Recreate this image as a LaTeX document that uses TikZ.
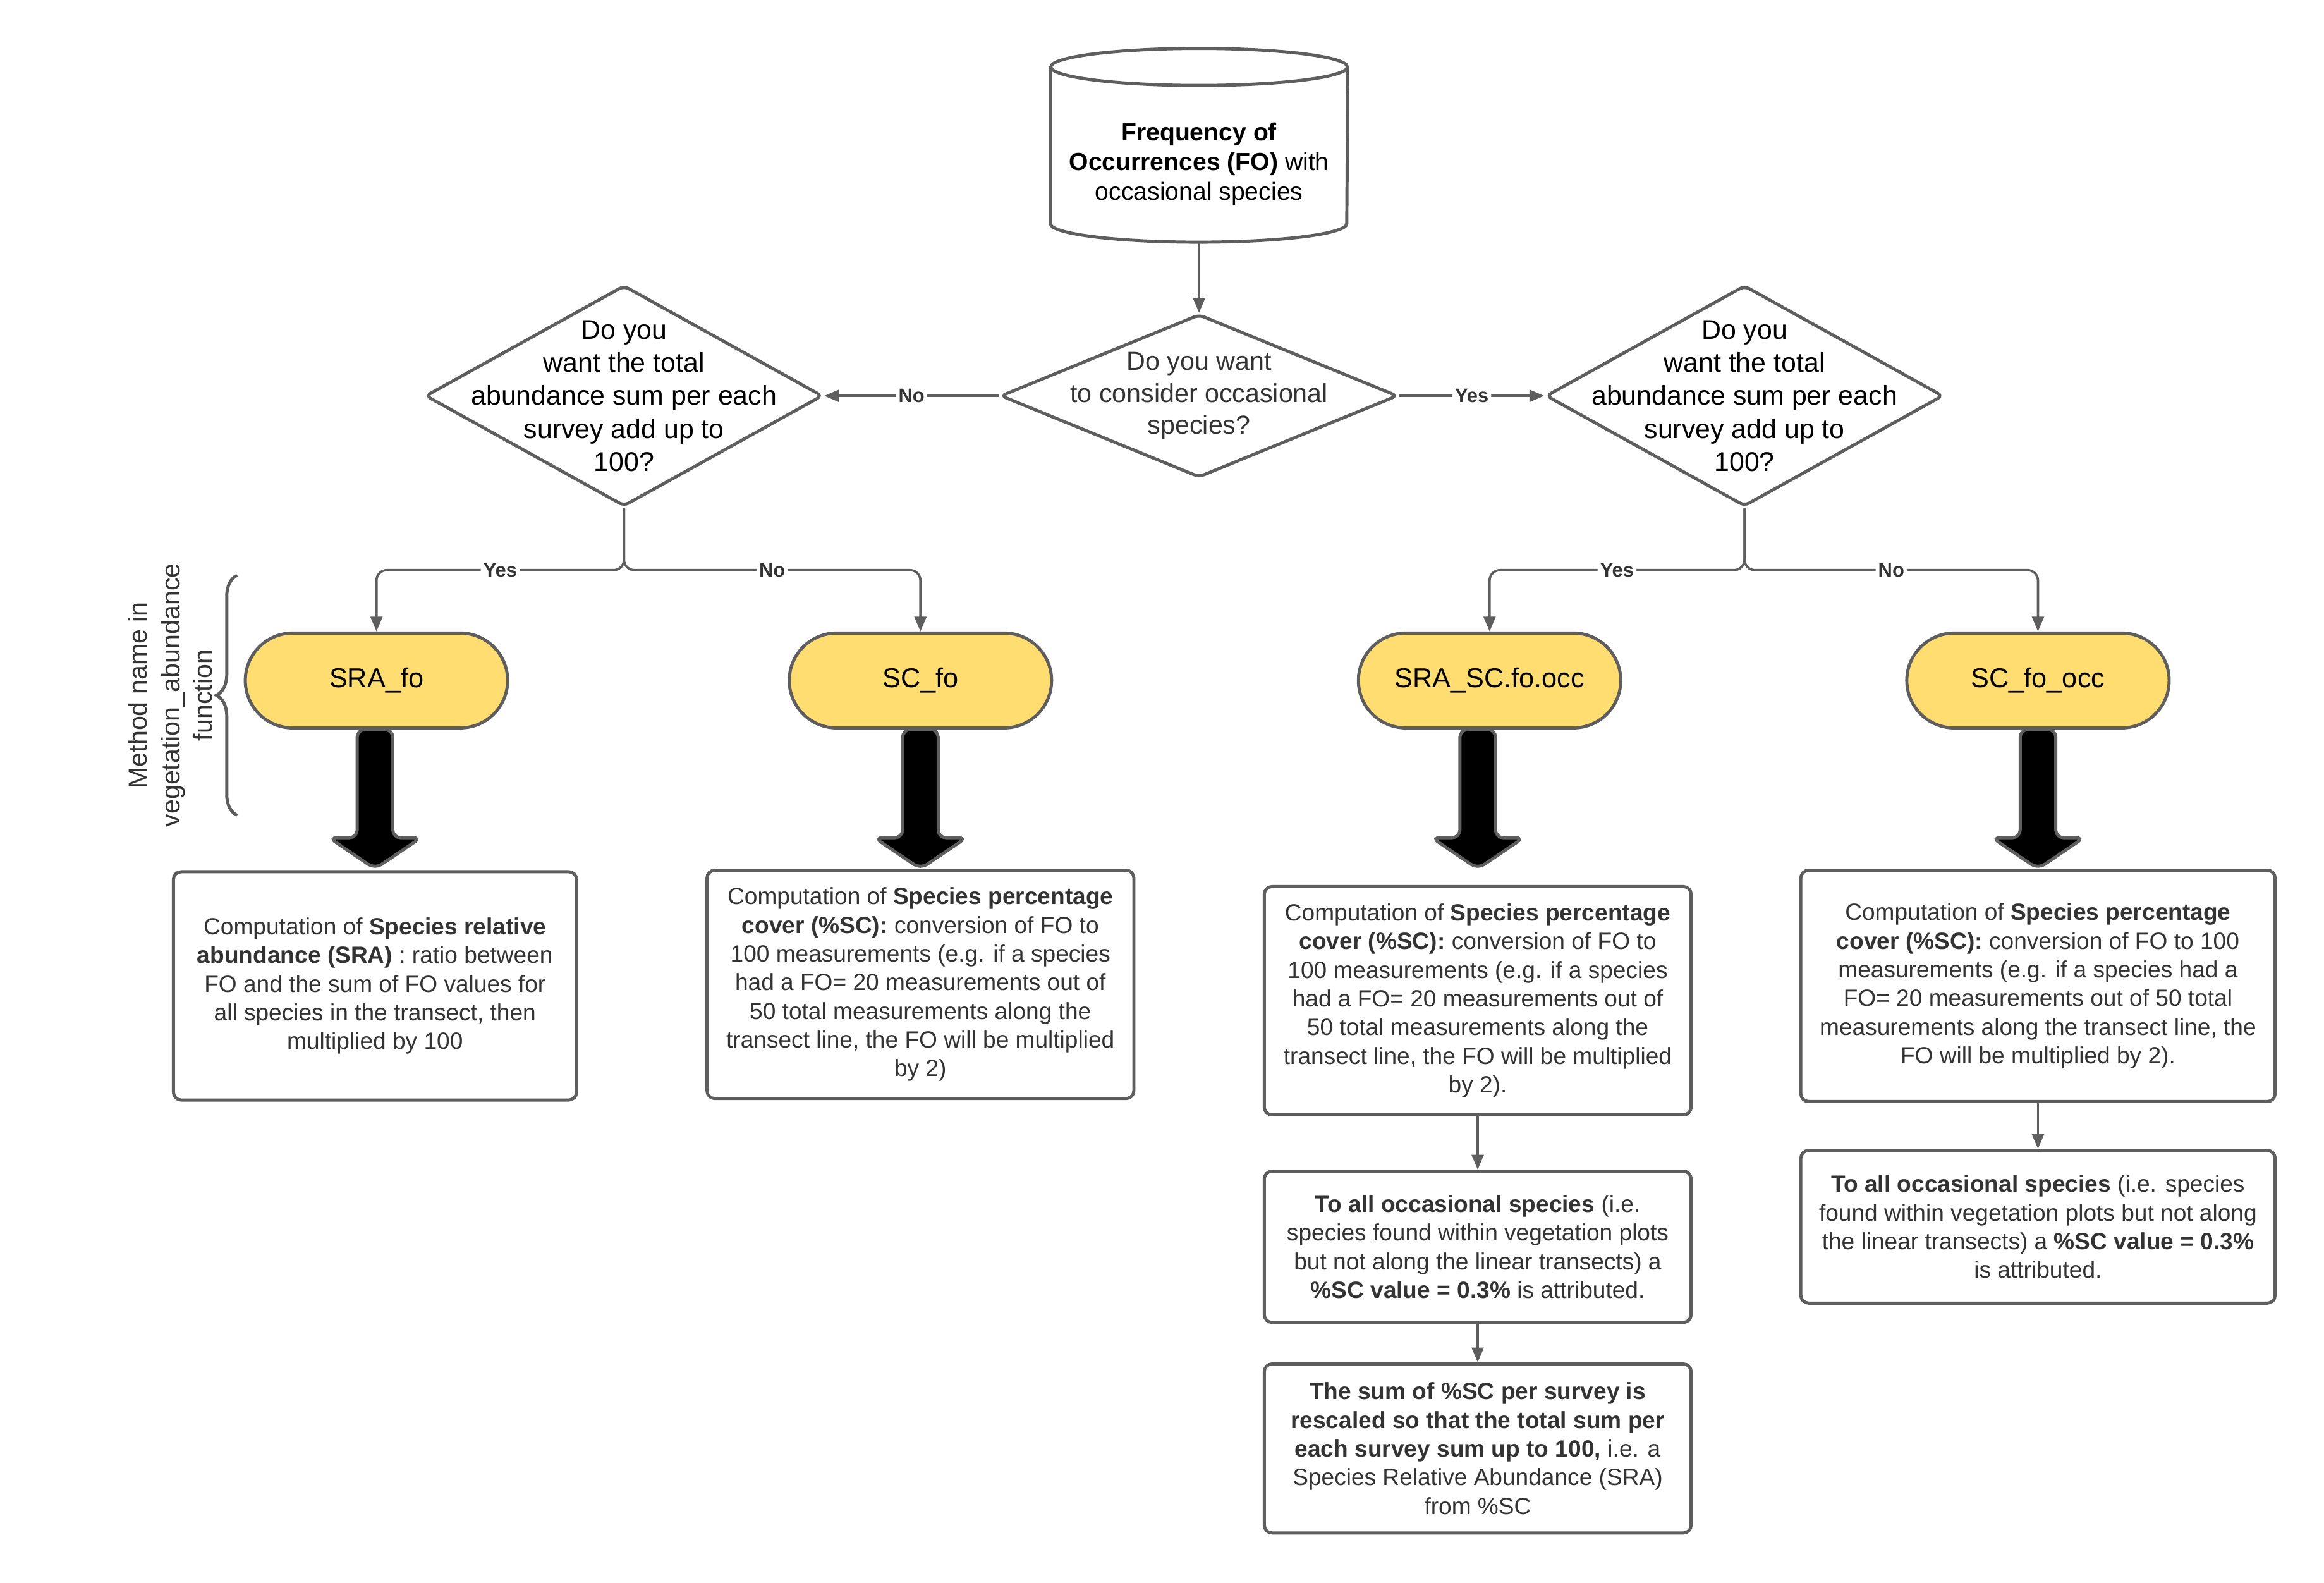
\documentclass[tikz,border=0pt]{standalone}
\usepackage{fontspec}
\setmainfont{Liberation Sans}
\usetikzlibrary{shapes.geometric,arrows.meta,decorations.pathreplacing}
\definecolor{linegray}{RGB}{94,94,94}
\definecolor{textgray}{RGB}{51,51,51}
\definecolor{methodyellow}{RGB}{255,221,113}
\tikzset{
  border/.style={draw=linegray, line width=1.2pt},
  decision/.style={border, diamond, rounded corners=2pt, inner sep=0pt, minimum width=5.36cm},
  asktext/.style={align=center, inner sep=0pt, font=\fontsize{10.4}{12.7}\selectfont},
  asksmall/.style={align=center, inner sep=0pt, text=textgray, font=\fontsize{10}{12.2}\selectfont},
  cyltext/.style={align=center, inner sep=0pt, minimum width=4cm, minimum height=2.1cm, font=\fontsize{9.5}{11.4}\selectfont},
  method/.style={border, fill=methodyellow, rounded corners=0.64cm, minimum width=3.54cm, minimum height=1.28cm, font=\fontsize{10.5}{12}\selectfont},
  descbox/.style={border, rounded corners=3pt, align=center, text=textgray, font=\fontsize{9}{11}\selectfont},
  link/.style={draw=linegray, line width=0.9pt, rounded corners=4pt, -{Triangle[length=0.2cm,width=0.16cm]}},
  lbl/.style={fill=white, inner sep=1pt, text=textgray, font=\bfseries\fontsize{7.5}{9}\selectfont},
  bigarr/.style={draw=linegray, line width=1.2pt, fill=black, rounded corners=3pt},
}
\newcommand{\decision}[6]{\node[decision, minimum height=#4cm] (#1) at (#2,#3) {};\node[#5] (#1txt) at (#1) {#6};}
\newcommand{\method}[4]{\node[method] (#1) at (#2,#3) {#4};}
\newcommand{\descbox}[6]{\node[descbox, minimum width=#4cm, minimum height=#5cm] (#1) at (#2,#3) {#6};}
\newcommand{\link}[2]{\draw[link] (#1) -- (#2);}
\newcommand{\linklbl}[3]{\draw[link] (#1) -- node[lbl] {#3} (#2);}
\newcommand{\branch}[3]{\draw[link] (#1.south) -- ++(0,-0.84) -| node[lbl, pos=0.25] {#3} (#2.north);}
\newcommand{\bigarrow}[2]{\draw[bigarr] (#1.south -| #2.north) ++(-0.24,0) -- ++(0,-1.46) -- ++(-0.38,0) -- ++(0.62,-0.42) -- ++(0.62,0.42) -- ++(-0.38,0) -- ++(0,1.46) -- cycle;}

\begin{document}
\begin{tikzpicture}
    \useasboundingbox (0,0) rectangle (31.36,-21.35);
    % data source
    \node[cyltext] (fo) at (16.18,-2.21) {\textbf{Frequency of}\\\textbf{Occurrences (FO)} with\\occasional species};
    \draw[border] ([yshift=0.25cm]fo.north) ellipse [x radius=2cm, y radius=0.25cm];
    \draw[border] ([yshift=0.25cm]fo.north west) -- ([yshift=0.25cm]fo.south west) arc [start angle=180, end angle=360, x radius=2cm, y radius=0.25cm] -- ([yshift=0.25cm]fo.north east);

    % questions
    \decision{occq}{16.18}{-5.34}{2.2}{asksmall}{Do you want\\to consider occasional\\species?}
    \decision{sumno}{8.42}{-5.34}{2.98}{asktext}{Do you\\want the total\\abundance sum per each\\survey add up to\\100?}
    \decision{sumyes}{23.54}{-5.34}{2.98}{asktext}{Do you\\want the total\\abundance sum per each\\survey add up to\\100?}
    \link{fo.south}{occq.north}
    \linklbl{occq.west}{sumno.east}{No} \linklbl{occq.east}{sumyes.west}{Yes}

    % method names
    \method{srafo}{5.08}{-9.18}{SRA\_fo}        \method{scfo}{12.42}{-9.18}{SC\_fo}
    \method{srascocc}{20.10}{-9.18}{SRA\_SC.fo.occ}    \method{scfoocc}{27.50}{-9.18}{SC\_fo\_occ}
    \branch{sumno}{srafo}{Yes} \branch{sumno}{scfo}{No}
    \branch{sumyes}{srascocc}{Yes} \branch{sumyes}{scfoocc}{No}
    \draw[linegray, line width=1.2pt, decorate, decoration={brace, amplitude=0.28cm}] (3.20,-11.0) -- (3.20,-7.76);
    \node[rotate=90, align=center, text=textgray, font=\fontsize{10}{12.5}\selectfont] (methodnote) at (2.30,-9.38) {Method name in\\vegetation\_abundance\\function};

    % computations
    \descbox{srabox}{5.06}{-13.30}{5.44}{3.08}{Computation of \textbf{Species relative}\\\textbf{abundance (SRA)} : ratio between\\FO and the sum of FO values for\\all species in the transect, then\\multiplied by 100}
    \descbox{scbox}{12.42}{-13.28}{5.76}{3.08}{Computation of \textbf{Species percentage}\\\textbf{cover (\%SC):} conversion of FO to\\100 measurements (e.g. if a species\\had a FO= 20 measurements out of\\50 total measurements along the\\transect line, the FO will be multiplied\\by 2)}
    \descbox{srascbox}{19.94}{-13.50}{5.76}{3.08}{Computation of \textbf{Species percentage}\\\textbf{cover (\%SC):} conversion of FO to\\100 measurements (e.g. if a species\\had a FO= 20 measurements out of\\50 total measurements along the\\transect line, the FO will be multiplied\\by 2).}
    \descbox{scoccbox}{27.50}{-13.30}{6.40}{3.12}{Computation of \textbf{Species percentage}\\\textbf{cover (\%SC):} conversion of FO to 100\\measurements (e.g. if a species had a\\FO= 20 measurements out of 50 total\\measurements along the transect line, the\\FO will be multiplied by 2).}
    \descbox{srascadd}{19.94}{-16.82}{5.76}{2.04}{\textbf{To all occasional species} (i.e.\\species found within vegetation plots\\but not along the linear transects) a\\\textbf{\%SC value = 0.3\%} is attributed.}
    \descbox{srascsum}{19.94}{-19.54}{5.76}{2.28}{\textbf{The sum of \%SC per survey is}\\\textbf{rescaled so that the total sum per}\\\textbf{each survey sum up to 100,} i.e. a\\Species Relative Abundance (SRA)\\from \%SC}
    \descbox{scoccadd}{27.50}{-16.55}{6.40}{2.06}{\textbf{To all occasional species} (i.e. species\\found within vegetation plots but not along\\the linear transects) a \textbf{\%SC value = 0.3\%}\\is attributed.}
    \bigarrow{srafo}{srabox} \bigarrow{scfo}{scbox}
    \bigarrow{srascocc}{srascbox} \bigarrow{scfoocc}{scoccbox}
    \link{srascbox.south}{srascadd.north} \link{srascadd.south}{srascsum.north}
    \link{scoccbox.south}{scoccadd.north}
\end{tikzpicture}
\end{document}
